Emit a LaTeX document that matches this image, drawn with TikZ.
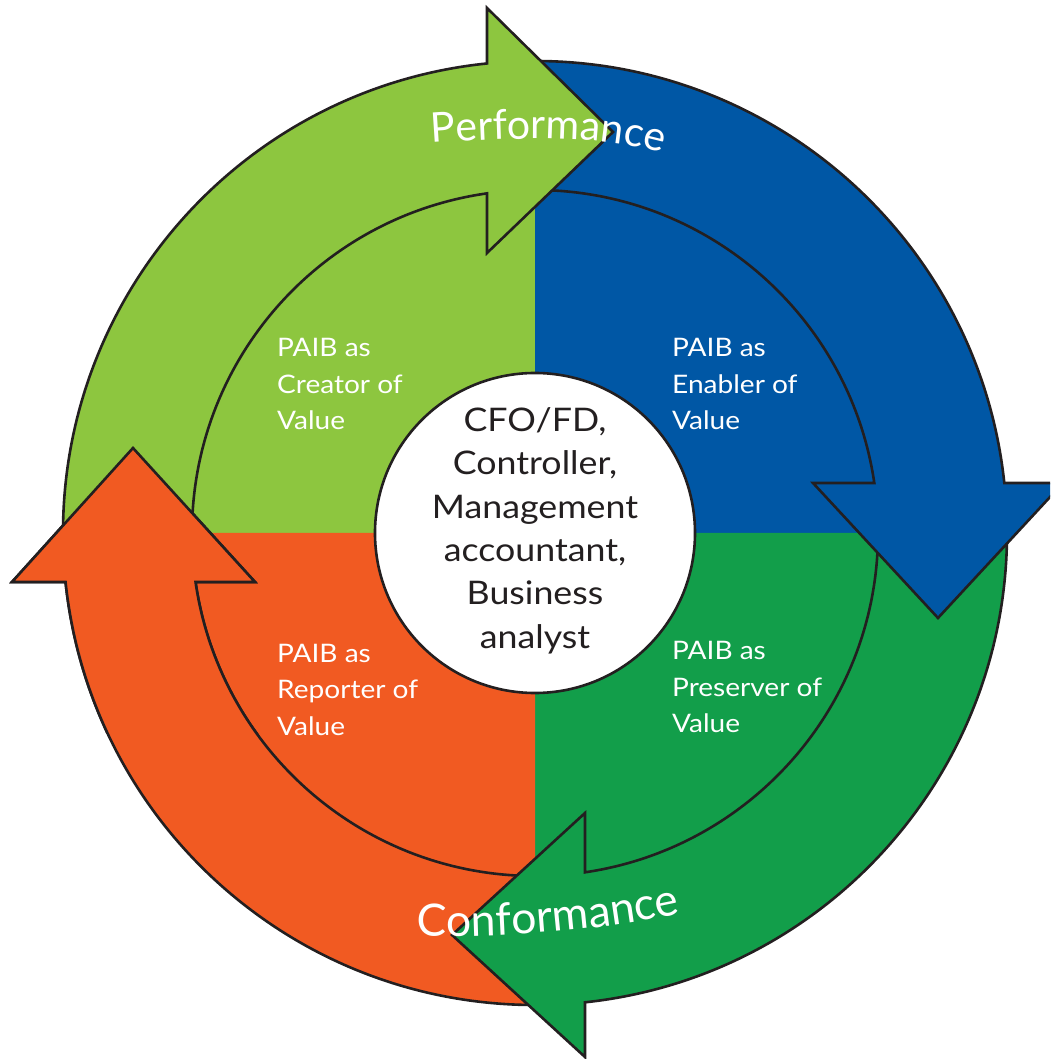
\documentclass[tikz,border=0pt]{standalone}
\usepackage{fontspec}
\setmainfont{Lato}
\newfontfamily\widefont[FakeStretch=1.1]{Lato}
\usetikzlibrary{decorations.text}
\definecolor{lgreen}{HTML}{8DC63F}
\definecolor{eblue}{HTML}{0057A5}
\definecolor{dgreen}{HTML}{129E4A}
\definecolor{orng}{HTML}{F15A22}
\definecolor{outline}{HTML}{231F20}
\newcommand\perffont{\fontsize{41}{50}\selectfont}
\newcommand\conffont{\fontsize{44.5}{50}\selectfont}
\begin{document}
\begin{tikzpicture}[x=1pt,y=1pt]
\tikzset{
  arrowshape/.style={draw=outline, line width=2.6pt, line join=miter, miter limit=10},
  qlabel/.style={text=white, align=left, inner sep=0pt, font=\widefont\fontsize{25.5}{36.5}\selectfont},
  hublabel/.style={text=outline, align=center, inner sep=0pt, font=\widefont\fontsize{32.5}{43.3}\selectfont},
  hubcircle/.style={circle, draw=outline, fill=white, line width=2.6pt, minimum size=320pt, inner sep=0pt}
}
\useasboundingbox (-535,-526) rectangle (515,533);
\clip (-535,-526) rectangle (515,533);
% inner quadrants
\fill[lgreen] (0,0) -- (180:346) arc[start angle=180,end angle=90,radius=346] -- cycle;
\fill[eblue] (0,0) -- (90:346) arc[start angle=90,end angle=0,radius=346] -- cycle;
\fill[dgreen] (0,0) -- (0:346) arc[start angle=0,end angle=-90,radius=346] -- cycle;
\fill[orng] (0,0) -- (-90:346) arc[start angle=-90,end angle=-180,radius=346] -- cycle;
% arrows
\draw[arrowshape, fill=orng] (270:472) arc[start angle=270,end angle=185.96,radius=472] -- (-523,-49) -- (-402,85) -- (-280,-49) -- (188.21:343) arc[start angle=188.21,end angle=270,radius=343] -- cycle;
\draw[arrowshape, fill=dgreen] (0:472) arc[start angle=0,end angle=-83.92,radius=472] -- (50,-524) -- (-83,-402) -- (50,-280) -- (-81.62:343) arc[start angle=-81.62,end angle=0,radius=343] -- cycle;
\draw[arrowshape, fill=eblue] (90:472) arc[start angle=90,end angle=6.08,radius=472] -- (528,50) -- (403,-85) -- (278,50) -- (8.38:343) arc[start angle=8.38,end angle=90,radius=343] -- cycle;
\draw[arrowshape, fill=lgreen] (180:472) arc[start angle=180,end angle=95.84,radius=472] -- (-48,525) -- (78,401) -- (-48,280) -- (98.04:343) arc[start angle=98.04,end angle=180,radius=343] -- cycle;
% orange head again, above the light green body
\begin{scope}
\clip (-540,-200) rectangle (-150,150);
\draw[arrowshape, fill=orng] (270:472) arc[start angle=270,end angle=185.96,radius=472] -- (-523,-49) -- (-402,85) -- (-280,-49) -- (188.21:343) arc[start angle=188.21,end angle=270,radius=343] -- cycle;
\end{scope}
% hub
\node[hubcircle] (hub) at (0,0) {};
\node[hublabel, anchor=base] (roles) at (0,-115) {CFO/FD,\\Controller,\\Management\\accountant,\\Business\\analyst};
% quadrant labels (anchor at the baseline of the last line)
\node[qlabel, anchor=base west] (creator) at (-258,103) {PAIB as\\Creator of\\Value};
\node[qlabel, anchor=base west] (enabler) at (137,103) {PAIB as\\Enabler of\\Value};
\node[qlabel, anchor=base west] (reporter) at (-258,-202) {PAIB as\\Reporter of\\Value};
\node[qlabel, anchor=base west] (preserver) at (137,-200) {PAIB as\\Preserver of\\Value};
% ring labels
\path[decorate, decoration={text along path, text={|\perffont|Performance}, text color=white, text align=left}] (-103,390) .. controls (-5,397) and (75,397) .. (137,377) -- (175,362);
\path[decorate, decoration={text along path, text={|\conffont|Conformance}, text color=white, text align=left}] (-118,-402) .. controls (-65,-406) and (65,-400) .. (155,-378) -- (185,-370);
\end{tikzpicture}
\end{document}
